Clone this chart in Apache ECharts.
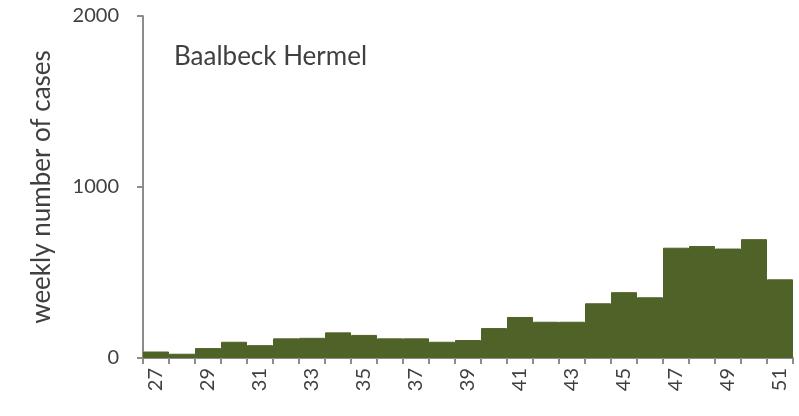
<!DOCTYPE html>
<html>
<head>
<meta charset="utf-8">
<script src="https://cdn.jsdelivr.net/npm/echarts@6/dist/echarts.min.js"></script>
<style>
html,body{margin:0;padding:0;background:#fff;}
#c{width:799px;height:416px;}
</style>
</head>
<body>
<div id="c"></div>
<script>
const weeks = ['27','28','29','30','31','32','33','34','35','36','37','38','39','40','41','42','43','44','45','46','47','48','49','50','51'];
const cases = [38,25,58,95,75,115,118,150,135,115,115,95,105,175,240,212,212,320,385,355,645,655,640,695,460];
const yTicks = [0,1000,2000];
const chartTitle = 'Baalbeck Hermel';
const yName = 'weekly number of cases';

const chart = echarts.init(document.getElementById('c'));
chart.setOption({
  animation:false,
  backgroundColor:'#ffffff',
  grid:{left:143,right:6,top:16,bottom:58},
  title:{text:chartTitle,left:169,top:39,textStyle:{fontFamily:'Lato',fontSize:26,fontWeight:'normal',color:'#404040'}},
  xAxis:{
    type:'category',data:weeks,boundaryGap:true,
    axisLine:{show:true,lineStyle:{color:'#8c8c8c',width:2}},
    axisTick:{show:true,interval:0,alignWithLabel:false,length:6,lineStyle:{color:'#8c8c8c',width:2}},
    axisLabel:{interval:1,rotate:90,fontFamily:'Lato',fontSize:20,color:'#404040',margin:10}
  },
  yAxis:{
    type:'value',min:yTicks[0],max:yTicks[yTicks.length-1],interval:1000,
    name:yName,nameLocation:'middle',nameGap:88,
    nameTextStyle:{fontFamily:'Lato',fontSize:26,color:'#404040'},
    splitLine:{show:false},
    axisLine:{show:true,lineStyle:{color:'#8c8c8c',width:2}},
    axisTick:{show:true,length:6,lineStyle:{color:'#8c8c8c',width:2}},
    axisLabel:{fontFamily:'Lato',fontSize:20,color:'#404040',margin:24,formatter:function(v){return String(v);}}
  },
  series:[{
    type:'bar',data:cases,barCategoryGap:'0%',
    itemStyle:{color:'#4f6228',borderColor:'#4f6228',borderWidth:1}
  }]
});
</script>
</body>
</html>
